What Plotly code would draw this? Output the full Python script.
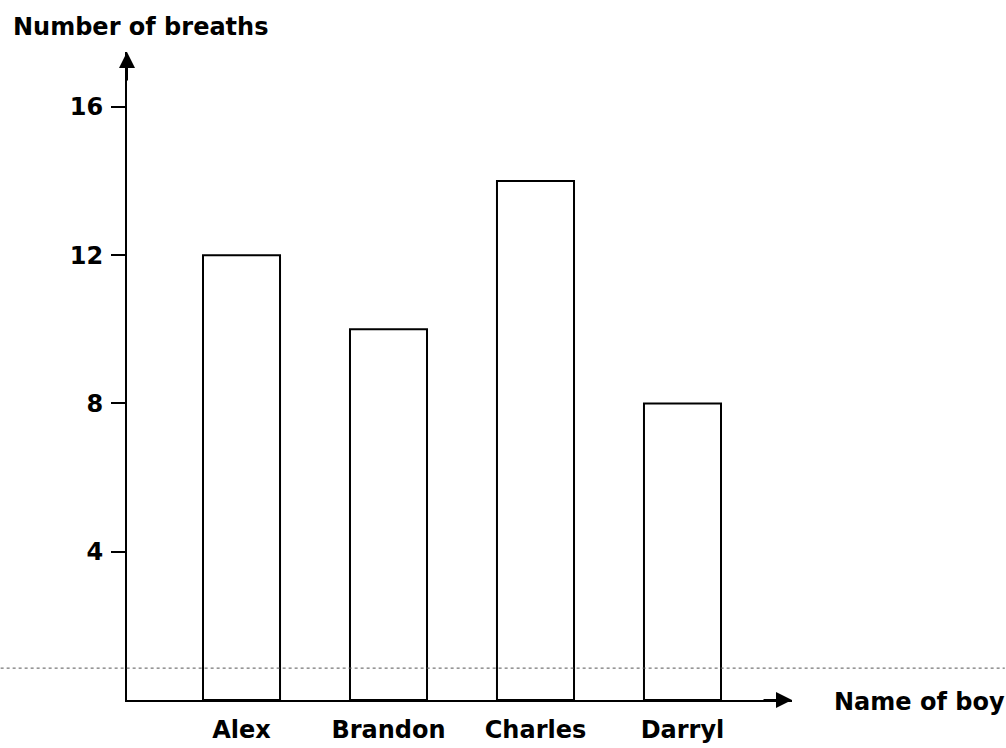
import plotly.graph_objects as go

boys = ["Alex", "Brandon", "Charles", "Darryl"]
breaths = [12, 10, 14, 8]
y_ticks = [4, 8, 12, 16]

FONT = dict(family="DejaVu Sans", size=24, color="black", weight="bold")

fig = go.Figure()
fig.add_trace(go.Bar(
    x=list(range(len(boys))), y=breaths, width=0.524,
    marker=dict(color="white", line=dict(color="black", width=2)),
    hoverinfo="skip",
))

fig.update_layout(
    width=1006, height=748,
    margin=dict(l=127, r=214, t=52, b=48),
    paper_bgcolor="white", plot_bgcolor="white",
    showlegend=False,
    xaxis=dict(
        range=[-0.779, 3.745], tickvals=list(range(len(boys))), ticktext=boys,
        showgrid=False, zeroline=False, showline=True, linecolor="black", linewidth=2,
        ticks="", tickfont=FONT, ticklabelstandoff=7, automargin=False, fixedrange=True,
    ),
    yaxis=dict(
        range=[0, 17.48], tickvals=y_ticks, showgrid=False, zeroline=False,
        showline=True, linecolor="black", linewidth=2,
        ticks="outside", ticklen=14, tickwidth=1.5, tickcolor="black",
        tickfont=FONT, ticklabelstandoff=3, automargin=False, fixedrange=True,
    ),
)

# scan artifact dotted line
fig.add_shape(type="line", xref="paper", yref="y", x0=-0.19, x1=1.32, y0=0.86, y1=0.86,
              line=dict(color="#555555", width=1, dash="dot"), layer="above")

# arrowheads on axes
fig.add_annotation(xref="paper", yref="paper", x=0, y=1, ax=0, ay=30, axref="pixel", ayref="pixel",
                   showarrow=True, arrowhead=2, arrowsize=1.6, arrowwidth=2, arrowcolor="black", text="")
fig.add_annotation(xref="paper", yref="paper", x=1, y=0, ax=-30, ay=0, axref="pixel", ayref="pixel",
                   showarrow=True, arrowhead=2, arrowsize=1.6, arrowwidth=2, arrowcolor="black", text="")

fig.add_annotation(xref="paper", yref="paper", x=-0.174, y=1.0386, xanchor="left", yanchor="middle",
                   text="Number of breaths", showarrow=False, font=FONT)
fig.add_annotation(xref="paper", yref="paper", x=1.060, y=-0.003, xanchor="left", yanchor="middle",
                   text="Name of boy", showarrow=False, font=FONT)

fig.write_html("out.html", config={"displayModeBar": False},
               post_script="document.body.style.margin='0px';")
